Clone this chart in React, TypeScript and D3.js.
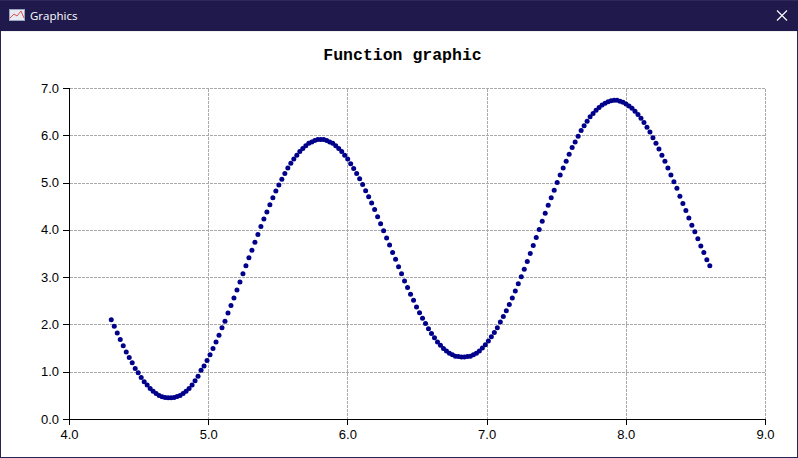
import { scaleLinear, range } from "d3";

const xValues = [
  4.3, 4.3215, 4.343, 4.3645, 4.386, 4.4075, 4.429, 4.4505, 4.472, 4.4935,
  4.515, 4.5365, 4.558, 4.5795, 4.601, 4.6225, 4.644, 4.6655, 4.687, 4.7085,
  4.73, 4.7515, 4.773, 4.7945, 4.816, 4.8375, 4.859, 4.8805, 4.902, 4.9235,
  4.945, 4.9665, 4.988, 5.0095, 5.031, 5.0525, 5.074, 5.0955, 5.117, 5.1385,
  5.16, 5.1815, 5.203, 5.2245, 5.246, 5.2675, 5.289, 5.3105, 5.332, 5.3535,
  5.375, 5.3965, 5.418, 5.4395, 5.461, 5.4825, 5.504, 5.5255, 5.547, 5.5685,
  5.59, 5.6115, 5.633, 5.6545, 5.676, 5.6975, 5.719, 5.7405, 5.762, 5.7835,
  5.805, 5.8265, 5.848, 5.8695, 5.891, 5.9125, 5.934, 5.9555, 5.977, 5.9985,
  6.02, 6.0415, 6.063, 6.0845, 6.106, 6.1275, 6.149, 6.1705, 6.192, 6.2135,
  6.235, 6.2565, 6.278, 6.2995, 6.321, 6.3425, 6.364, 6.3855, 6.407, 6.4285,
  6.45, 6.4715, 6.493, 6.5145, 6.536, 6.5575, 6.579, 6.6005, 6.622, 6.6435,
  6.665, 6.6865, 6.708, 6.7295, 6.751, 6.7725, 6.794, 6.8155, 6.837, 6.8585,
  6.88, 6.9015, 6.923, 6.9445, 6.966, 6.9875, 7.009, 7.0305, 7.052, 7.0735,
  7.095, 7.1165, 7.138, 7.1595, 7.181, 7.2025, 7.224, 7.2455, 7.267, 7.2885,
  7.31, 7.3315, 7.353, 7.3745, 7.396, 7.4175, 7.439, 7.4605, 7.482, 7.5035,
  7.525, 7.5465, 7.568, 7.5895, 7.611, 7.6325, 7.654, 7.6755, 7.697, 7.7185,
  7.74, 7.7615, 7.783, 7.8045, 7.826, 7.8475, 7.869, 7.8905, 7.912, 7.9335,
  7.955, 7.9765, 7.998, 8.0195, 8.041, 8.0625, 8.084, 8.1055, 8.127, 8.1485,
  8.17, 8.1915, 8.213, 8.2345, 8.256, 8.2775, 8.299, 8.3205, 8.342, 8.3635,
  8.385, 8.4065, 8.428, 8.4495, 8.471, 8.4925, 8.514, 8.5355, 8.557, 8.5785,
  8.6,
];
const yValues = [
  2.11, 1.97, 1.83, 1.69, 1.56, 1.43, 1.31, 1.2, 1.08, 0.99,
  0.89, 0.8, 0.73, 0.655, 0.6, 0.55, 0.51, 0.48, 0.465, 0.458,
  0.458, 0.465, 0.486, 0.51, 0.55, 0.6, 0.655, 0.73, 0.82, 0.915,
  1.04, 1.13, 1.25, 1.37, 1.5, 1.64, 1.78, 1.94, 2.08, 2.25,
  2.41, 2.57, 2.74, 2.91, 3.08, 3.25, 3.42, 3.58, 3.75, 3.91,
  4.08, 4.24, 4.39, 4.54, 4.69, 4.83, 4.96, 5.08, 5.2, 5.32,
  5.42, 5.51, 5.59, 5.67, 5.73, 5.79, 5.84, 5.87, 5.9, 5.92,
  5.92, 5.92, 5.9, 5.87, 5.84, 5.79, 5.73, 5.67, 5.59, 5.51,
  5.41, 5.31, 5.2, 5.09, 4.97, 4.84, 4.71, 4.58, 4.44, 4.29,
  4.14, 3.99, 3.84, 3.69, 3.53, 3.39, 3.23, 3.08, 2.93, 2.79,
  2.65, 2.52, 2.38, 2.26, 2.14, 2.03, 1.92, 1.82, 1.73, 1.64,
  1.57, 1.5, 1.45, 1.4, 1.37, 1.34, 1.33, 1.32, 1.32, 1.33,
  1.34, 1.37, 1.4, 1.45, 1.51, 1.58, 1.66, 1.75, 1.84, 1.94,
  2.06, 2.18, 2.3, 2.43, 2.57, 2.72, 2.87, 3.02, 3.18, 3.34,
  3.51, 3.68, 3.85, 4.02, 4.19, 4.36, 4.53, 4.69, 4.85, 5.01,
  5.17, 5.32, 5.46, 5.61, 5.75, 5.87, 5.99, 6.11, 6.21, 6.31,
  6.4, 6.47, 6.54, 6.6, 6.65, 6.69, 6.72, 6.74, 6.75, 6.75,
  6.73, 6.71, 6.67, 6.63, 6.58, 6.52, 6.45, 6.37, 6.28, 6.18,
  6.08, 5.96, 5.84, 5.72, 5.59, 5.46, 5.32, 5.17, 5.03, 4.89,
  4.72, 4.57, 4.42, 4.26, 4.11, 3.97, 3.82, 3.67, 3.53, 3.38,
  3.25,
];
const xTicks = [4, 5, 6, 7, 8, 9];
const yTicks = [0, 1, 2, 3, 4, 5, 6, 7];

const width = 798;
const height = 458;
const x = scaleLinear().domain([4, 9]).range([69.5, 765.5]);
const y = scaleLinear().domain([0, 7]).range([419.5, 88.5]);

const labelFont = "'Liberation Sans', Arial, sans-serif";
const barColor = "#201a4c";

export default function App() {
  return (
    <svg
      width={width}
      height={height}
      style={{ position: "fixed", left: 0, top: 0, display: "block" }}
    >
      <rect width={width} height={height} fill="#fff" />

      {/* Window frame */}
      <rect width={width} height={31} fill={barColor} />
      <rect width={width} height={1} fill="#2e2957" />
      <rect y={31} width={width} height={1} fill="#f0f0f0" />
      <rect y={31} width={1} height={height - 31} fill="#2a2550" />
      <rect x={797} y={31} width={1} height={height - 31} fill="#2a2550" />
      <rect y={457} width={width} height={1} fill="#2a2550" />

      {/* Title bar icon */}
      <rect x={9.5} y={9.5} width={15} height={11} fill="#e8eaf2" stroke="#9aa3c0" />
      <polyline points="10,18 14,14 17,16 21,11 24,18" fill="none" stroke="#d9534f" />
      <text x={30} y={20} fontFamily="'Open Sans', 'Noto Sans', sans-serif" fontSize={11.5} fill="#fff">
        Graphics
      </text>
      <path d="M777 10.5 L787 20.5 M787 10.5 L777 20.5" stroke="#fff" strokeWidth={1.1} />

      <text
        x={402.5}
        y={60}
        textAnchor="middle"
        fontFamily="'Liberation Mono', monospace"
        fontWeight="bold"
        fontSize={16.5}
        fill="#000"
      >
        Function graphic
      </text>

      {/* Grid */}
      <g stroke="#a9a9a9" strokeDasharray="3,1" shapeRendering="crispEdges">
        {xTicks.slice(1).map((t) => (
          <line key={t} x1={x(t)} x2={x(t)} y1={y(7)} y2={y(0)} />
        ))}
        {yTicks.slice(1).map((t) => (
          <line key={t} x1={x(4)} x2={x(9)} y1={y(t)} y2={y(t)} />
        ))}
      </g>

      {/* Axes */}
      <g stroke="#000" shapeRendering="crispEdges">
        <line x1={x(4)} x2={x(4)} y1={y(7)} y2={y(0)} />
        <line x1={x(4)} x2={x(9)} y1={y(0)} y2={y(0)} />
        {xTicks.map((t) => (
          <line key={t} x1={x(t)} x2={x(t)} y1={y(0)} y2={y(0) + 5} />
        ))}
        {yTicks.map((t) => (
          <line key={t} x1={x(4) - 7} x2={x(4)} y1={y(t)} y2={y(t)} />
        ))}
      </g>
      <g fontFamily={labelFont} fontSize={13} fill="#000">
        {xTicks.map((t) => (
          <text key={t} x={x(t)} y={438.5} textAnchor="middle">
            {t.toFixed(1)}
          </text>
        ))}
        {yTicks.map((t) => (
          <text key={t} x={59} y={y(t) + 4} textAnchor="end">
            {t.toFixed(1)}
          </text>
        ))}
      </g>

      {/* Points */}
      <g fill="#00008b">
        {range(xValues.length).map((i) => (
          <circle key={i} cx={x(xValues[i])} cy={y(yValues[i])} r={2.5} />
        ))}
      </g>
    </svg>
  );
}
